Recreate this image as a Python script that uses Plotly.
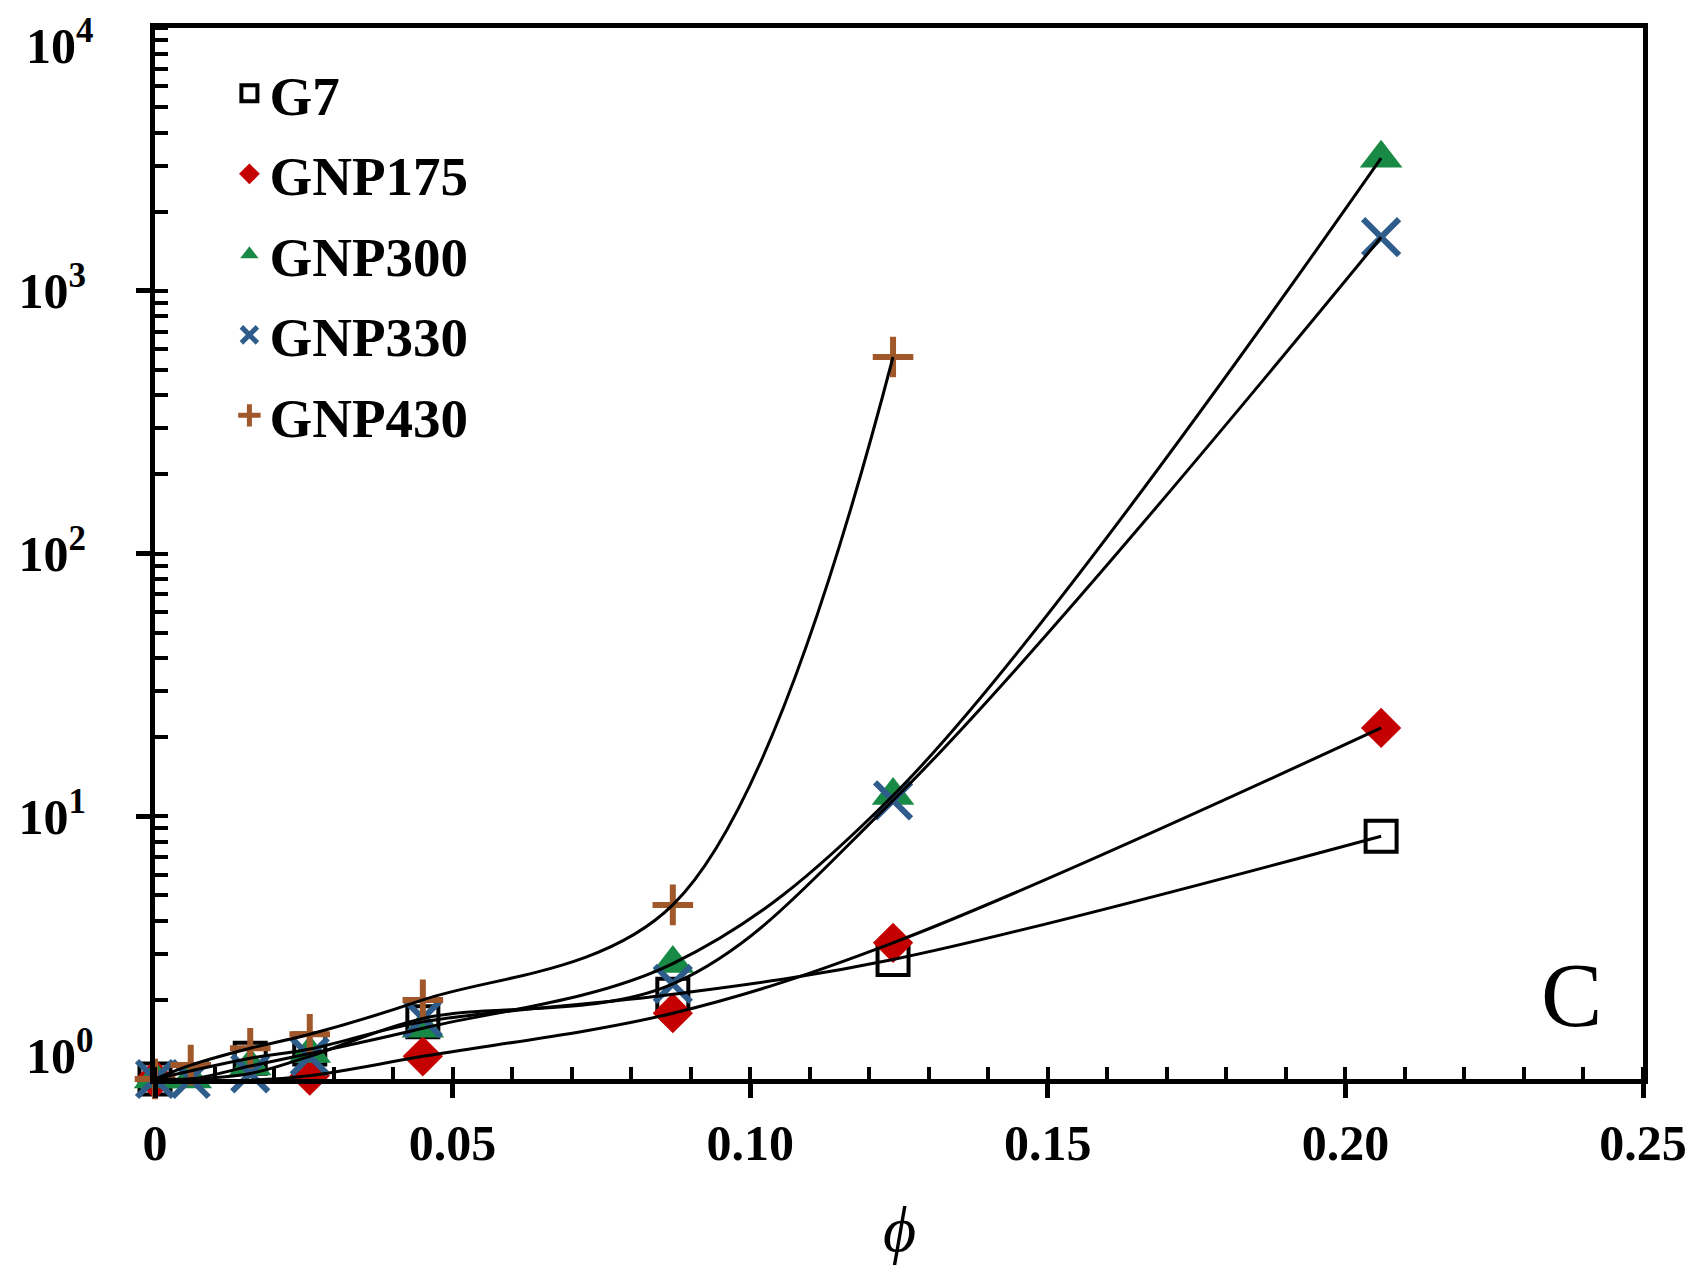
import plotly.graph_objects as go

# ---- data ----
series_names = ["G7", "GNP175", "GNP300", "GNP330", "GNP430"]

phi_g7 = [0, 0.016, 0.026, 0.045, 0.087, 0.124, 0.206]
val_g7 = [1.0, 1.2, 1.3, 1.65, 2.1, 2.85, 8.4]

phi_gnp175 = [0, 0.016, 0.026, 0.045, 0.087, 0.124, 0.206]
val_gnp175 = [1.0, 0.99, 1.03, 1.22, 1.78, 3.3, 21.7]

phi_gnp300 = [0, 0.006, 0.016, 0.026, 0.045, 0.087, 0.124, 0.206]
val_gnp300 = [1.0, 1.0, 1.12, 1.25, 1.56, 2.75, 12.0, 3200]

phi_gnp330 = [0, 0.006, 0.016, 0.026, 0.045, 0.087, 0.124, 0.206]
val_gnp330 = [1.0, 1.0, 1.05, 1.22, 1.7, 2.3, 11.5, 1600]

phi_gnp430 = [0, 0.006, 0.016, 0.026, 0.045, 0.087, 0.124]
val_gnp430 = [1.0, 1.13, 1.31, 1.48, 2.0, 4.6, 560]

x_tickvals = [0, 0.05, 0.10, 0.15, 0.20, 0.25]
x_ticktext = ["0", "0.05", "0.10", "0.15", "0.20", "0.25"]
y_tickvals = [1, 10, 100, 1000, 10000]
y_ticktext = ["10<sup>0</sup>", "10<sup>1</sup>", "10<sup>2</sup>", "10<sup>3</sup>", "10<sup>4</sup>"]

xs = [phi_g7, phi_gnp175, phi_gnp300, phi_gnp330, phi_gnp430]
ys = [val_g7, val_gnp175, val_gnp300, val_gnp330, val_gnp430]

# ---- styles ----
markers = [
    dict(symbol="square-open", size=31, color="black", line=dict(width=4, color="black")),
    dict(symbol="diamond", size=31, color="#C40000", line=dict(width=0)),
    dict(symbol="triangle-up", size=37, color="#188A45", line=dict(width=0)),
    dict(symbol="x-thin", size=36, color="#2E5D8C", line=dict(width=6, color="#2E5D8C")),
    dict(symbol="cross-thin", size=29, color="#A0582A", line=dict(width=6, color="#A0582A")),
]

serif = "Liberation Serif, Times New Roman, serif"
tickfont = dict(family=serif, size=50, color="black", weight="bold")
fig = go.Figure()

for i, name in enumerate(series_names):
    fig.add_trace(go.Scatter(
        x=xs[i], y=ys[i], mode="markers", name=name,
        marker=markers[i], cliponaxis=False,
        legendgroup=name, showlegend=True,
    ))
for i, name in enumerate(series_names):
    fig.add_trace(go.Scatter(
        x=xs[i], y=ys[i], mode="lines",
        line=dict(color="black", width=3, shape="spline", smoothing=1.0),
        legendgroup=name, showlegend=False, hoverinfo="skip",
    ))

# the page body adds an 8px offset, so the figure is 8px smaller and margins are shifted
fig.update_layout(
    width=1687, height=1265,
    margin=dict(l=147, r=52, t=20, b=194, autoexpand=False),
    paper_bgcolor="white", plot_bgcolor="white",
    font=dict(family=serif, color="black"),
    showlegend=True,
    legend=dict(
        x=0.05, y=0.978, xanchor="left", yanchor="top",
        font=dict(family=serif, size=55, color="black", weight="bold"),
        bgcolor="rgba(0,0,0,0)", tracegroupgap=6,
        itemwidth=30,
    ),
    xaxis=dict(
        range=[0, 0.25], tickvals=x_tickvals, ticktext=x_ticktext,
        showgrid=False, zeroline=False, automargin=False,
        showline=True, linecolor="black", linewidth=5, mirror=True,
        ticks="outside", ticklen=14, tickwidth=5, tickcolor="black",
        tickfont=tickfont, ticklabelstandoff=2, ticklabeloverflow="allow",
        minor=dict(dtick=0.01, ticks="inside", ticklen=12, tickwidth=4, tickcolor="black", showgrid=False),
    ),
    xaxis2=dict(
        overlaying="x", matches="x", range=[0, 0.25], tickvals=x_tickvals,
        showticklabels=False, showgrid=False, zeroline=False, showline=False,
        ticks="inside", ticklen=18, tickwidth=5, tickcolor="black", side="bottom",
        automargin=False,
    ),
    yaxis=dict(
        type="log", range=[0, 4.0005], tickvals=y_tickvals[1:4], ticktext=y_ticktext[1:4],
        showgrid=False, zeroline=False, automargin=False,
        showline=True, linecolor="black", linewidth=5, mirror=True,
        ticks="outside", ticklen=14, tickwidth=5, tickcolor="black",
        tickfont=tickfont, ticklabelstandoff=40, ticklabeloverflow="allow",
        minor=dict(dtick="D1", ticks="inside", ticklen=13, tickwidth=4, tickcolor="black", showgrid=False),
    ),
    yaxis2=dict(
        type="log", overlaying="y", matches="y", range=[0, 4.0005], tickvals=y_tickvals,
        ticks="outside", ticklen=14, tickwidth=5, tickcolor="black",
        showticklabels=False, showgrid=False, zeroline=False, showline=False,
        side="left", automargin=False,
    ),
    yaxis3=dict(
        type="log", overlaying="y", matches="y", range=[0, 4.0005], tickvals=y_tickvals,
        showticklabels=False, showgrid=False, zeroline=False, showline=False,
        ticks="inside", ticklen=18, tickwidth=5, tickcolor="black", side="left",
        automargin=False,
    ),
    annotations=[
        dict(text=y_ticktext[0], xref="paper", yref="y", x=0, y=0,
             xanchor="right", yanchor="middle", xshift=-59, yshift=27, showarrow=False,
             font=tickfont),
        dict(text=y_ticktext[4], xref="paper", yref="y", x=0, y=4,
             xanchor="right", yanchor="middle", xshift=-59, yshift=-14, showarrow=False,
             font=tickfont),
        dict(text="<i>ϕ</i>", xref="paper", yref="paper", x=0.5, y=-0.143,
             xanchor="center", yanchor="middle", showarrow=False,
             font=dict(family=serif, size=64, color="black")),
        dict(text="C", xref="paper", yref="paper", x=0.952, y=0.08,
             xanchor="center", yanchor="middle", showarrow=False,
             font=dict(family=serif, size=92, color="black")),
    ],
)

fig.write_html("out.html")
